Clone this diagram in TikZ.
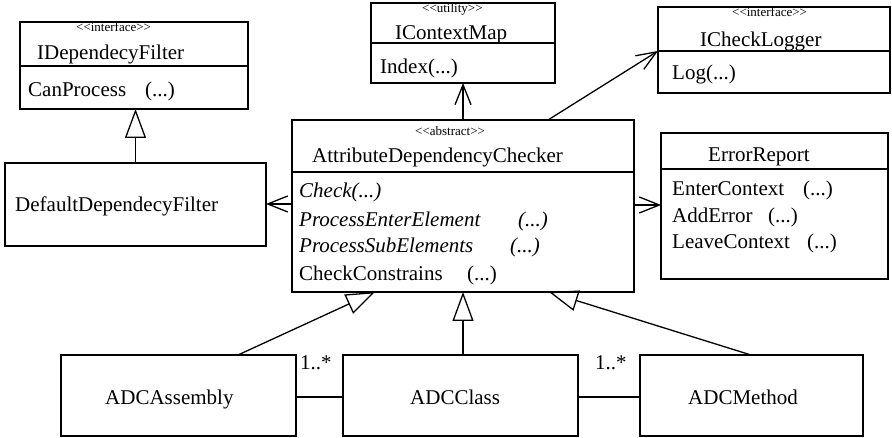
\documentclass[tikz,border=0pt]{standalone}
\usepackage{fontspec}
\setmainfont{Liberation Serif}
\usetikzlibrary{arrows.meta}

\tikzset{
  umlbox/.style={draw, line width=1.3pt, inner sep=0pt, outer sep=0pt, anchor=north west},
  divider/.style={line width=1.3pt},
  txt/.style={anchor=base west, inner sep=0pt, font=\fontsize{21}{25}\selectfont},
  itxt/.style={txt, font=\fontsize{21}{25}\selectfont\itshape},
  ster/.style={anchor=base west, inner sep=0pt, font=\fontsize{13}{15}\selectfont},
  gen/.style={line width=1.3pt, -{Triangle[open, length=29pt, width=21pt, line width=1.3pt]}},
  dep/.style={line width=1.3pt, -{Straight Barb[length=20pt, width=16pt, line width=1.3pt]}},
  assoc/.style={line width=1.3pt},
}

\begin{document}
\begin{tikzpicture}[x=1pt, y=-1pt]
\useasboundingbox (0,0) rectangle (892,438);

% class boxes
\node[umlbox, minimum width=228pt, minimum height=87pt]  (idf) at (20,22)   {};
\node[umlbox, minimum width=184pt, minimum height=80pt]  (icm) at (371,3)   {};
\node[umlbox, minimum width=232pt, minimum height=86pt]  (icl) at (658,7)   {};
\node[umlbox, minimum width=342pt, minimum height=172pt] (adc) at (292,120) {};
\node[umlbox, minimum width=227pt, minimum height=146pt] (err) at (661,133) {};
\node[umlbox, minimum width=261pt, minimum height=83pt]  (ddf) at (5,163)   {};
\node[umlbox, minimum width=235pt, minimum height=81pt]  (asm) at (61,355)  {};
\node[umlbox, minimum width=235pt, minimum height=81pt]  (cls) at (343,355) {};
\node[umlbox, minimum width=223pt, minimum height=81pt]  (mth) at (640,355) {};

% compartment separators
\draw[divider] (idf.west |- 0,66)  -- (idf.east |- 0,66);
\draw[divider] (icm.west |- 0,43)  -- (icm.east |- 0,43);
\draw[divider] (icl.west |- 0,51)  -- (icl.east |- 0,51);
\draw[divider] (adc.west |- 0,172) -- (adc.east |- 0,172);
\draw[divider] (err.west |- 0,169) -- (err.east |- 0,169);

% IDependecyFilter
\node[ster] (idfS) at (76,32) {<{}<interface>{}>};
\node[txt]  (idfN) at (37,60) {IDependecyFilter};
\node[txt]  (idfM) at (28,97) {CanProcess};
\node[txt]  (idfA) at (145,97) {(...)};

% IContextMap
\node[ster] (icmS) at (422,13) {<{}<utility>{}>};
\node[txt]  (icmN) at (395,40) {IContextMap};
\node[txt]  (icmM) at (380,74) {Index(...)};

% ICheckLogger
\node[ster] (iclS) at (732,17) {<{}<interface>{}>};
\node[txt]  (iclN) at (700,47) {ICheckLogger};
\node[txt]  (iclM) at (672,80) {Log(...)};

% AttributeDependencyChecker
\node[ster] (adcS) at (415,136) {<{}<abstract>{}>};
\node[txt]  (adcN) at (312,163) {AttributeDependencyChecker};
\node[itxt] (adcM1) at (299,198) {Check(...)};
\node[itxt] (adcM2) at (299,227) {ProcessEnterElement};
\node[itxt] (adcA2) at (518,227) {(...)};
\node[itxt] (adcM3) at (299,253) {ProcessSubElements};
\node[itxt] (adcA3) at (510,253) {(...)};
\node[txt]  (adcM4) at (299,281) {CheckConstrains};
\node[txt]  (adcA4) at (467,281) {(...)};

% ErrorReport
\node[txt] (errN)  at (708,162) {ErrorReport};
\node[txt] (errM1) at (672,196) {EnterContext};
\node[txt] (errA1) at (803,196) {(...)};
\node[txt] (errM2) at (672,223) {AddError};
\node[txt] (errA2) at (768,223) {(...)};
\node[txt] (errM3) at (672,249) {LeaveContext};
\node[txt] (errA3) at (807,249) {(...)};

% plain classes
\node[txt] (ddfN) at (15,212)  {DefaultDependecyFilter};
\node[txt] (asmN) at (105,405) {ADCAssembly};
\node[txt] (clsN) at (410,405) {ADCClass};
\node[txt] (mthN) at (688,405) {ADCMethod};

% multiplicities
\node[txt] (m1) at (300,370) {1..*};
\node[txt] (m2) at (595,370) {1..*};

% generalizations
\draw[gen] (ddf.north) -- (ddf.north |- idf.south);
\draw[gen] (asm.north -| 238,0) -- (adc.south -| 375,0);
\draw[gen] (cls.north -| 463,0) -- (adc.south -| 463,0);
\draw[gen] (mth.north -| 751,0) -- (adc.south -| 549,0);

% dependencies
\draw[dep] (adc.west |- 0,204) -- (ddf.east |- 0,204);
\draw[dep] (adc.north) -- (adc.north |- icm.south);
\draw[dep] (adc.north -| 548,0) -- (icl.west |- 0,51);
\draw[dep] (adc.east |- 0,205) -- (err.west |- 0,205);

% associations
\draw[assoc] (asm.east |- 0,397) -- (cls.west |- 0,397);
\draw[assoc] (cls.east |- 0,397) -- (mth.west |- 0,397);
\end{tikzpicture}
\end{document}
